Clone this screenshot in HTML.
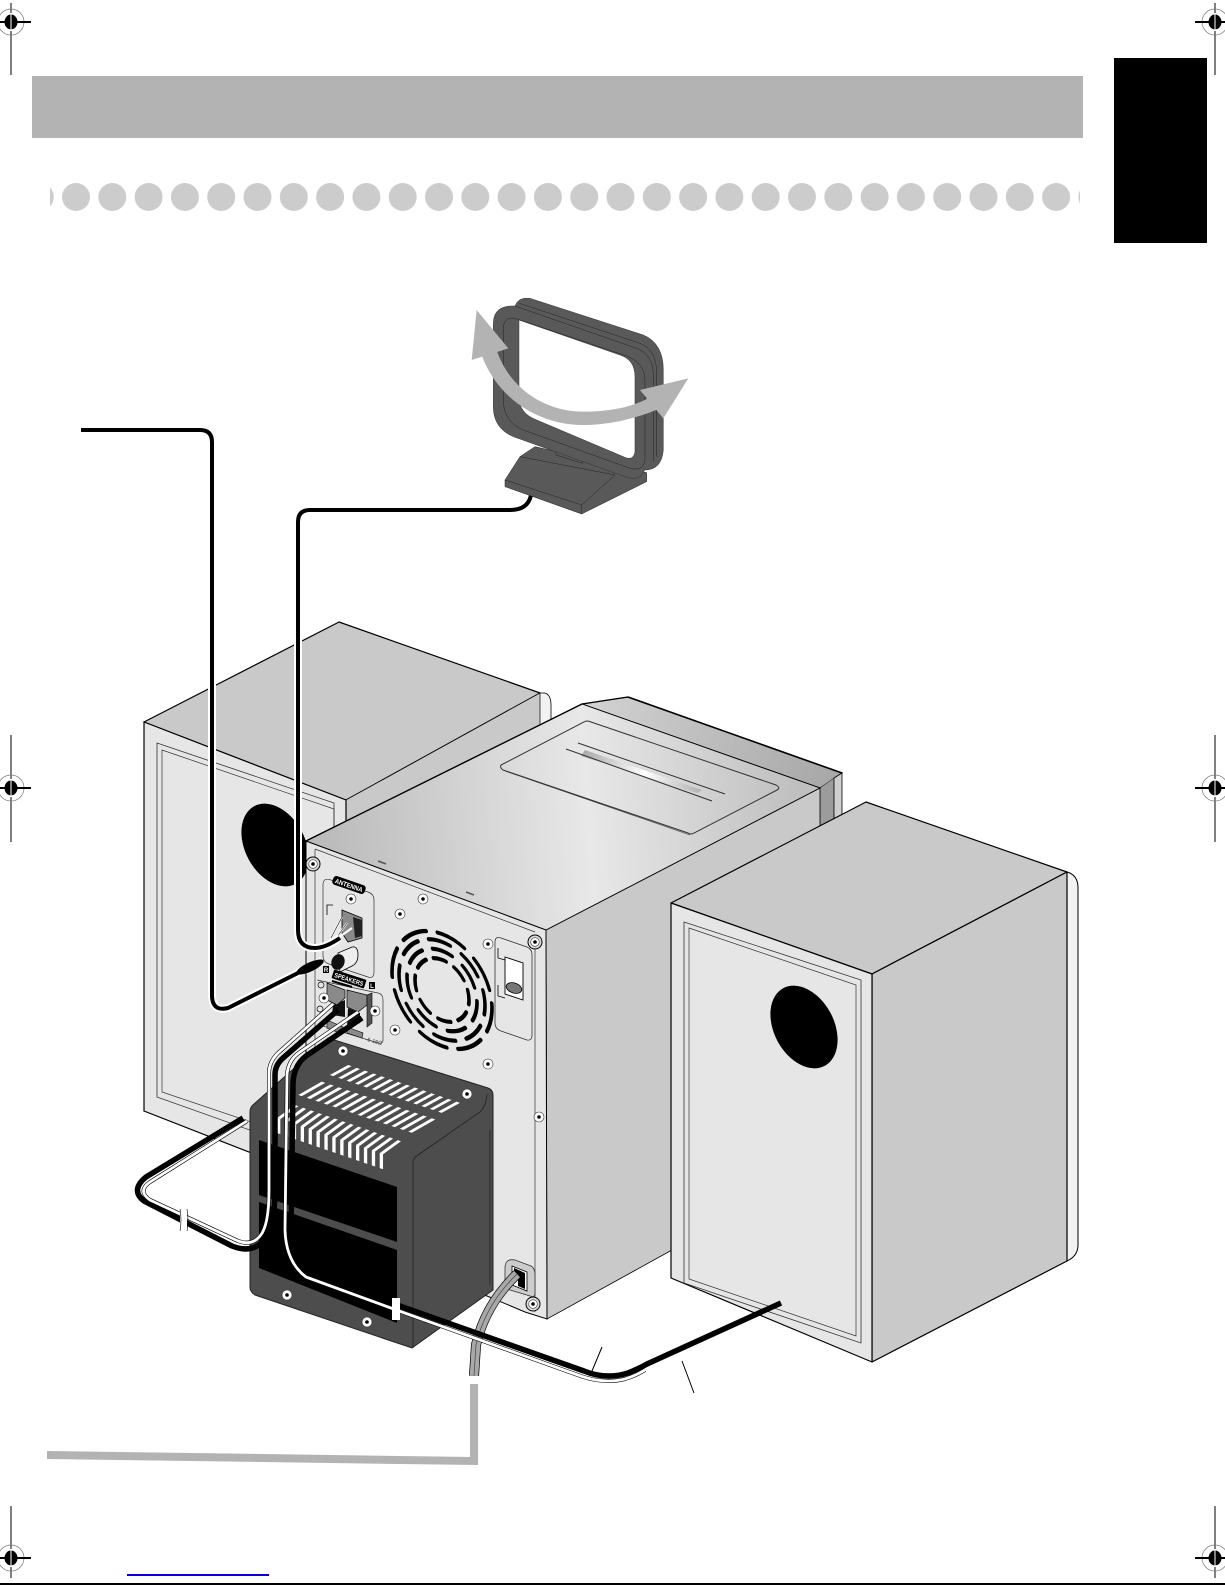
<!DOCTYPE html>
<html><head><meta charset="utf-8"><title>System connections</title>
<style>html,body{margin:0;padding:0;background:#fff}svg{display:block}</style></head>
<body>
<svg xmlns="http://www.w3.org/2000/svg" width="1225" height="1585" viewBox="0 0 1225 1585" font-family="Liberation Sans, sans-serif">
<defs>
<linearGradient id="topG" gradientUnits="userSpaceOnUse" x1="330" y1="830" x2="800" y2="800"><stop offset="0" stop-color="#bcbcbc"/><stop offset=".55" stop-color="#e8e8e8"/><stop offset="1" stop-color="#bfbfbf"/></linearGradient>
<linearGradient id="backG" gradientUnits="userSpaceOnUse" x1="590" y1="700" x2="840" y2="790"><stop offset="0" stop-color="#d2d2d2"/><stop offset="1" stop-color="#a6a6a6"/></linearGradient>
<linearGradient id="slotG" gradientUnits="userSpaceOnUse" x1="585" y1="750" x2="705" y2="795"><stop offset="0" stop-color="#aaa"/><stop offset=".5" stop-color="#fff"/><stop offset="1" stop-color="#aaa"/></linearGradient>
<g id="crop"><circle r="13" fill="none" stroke="#777" stroke-width=".7"/><ellipse rx="6.5" ry="7.5" fill="#000"/><rect x="-20" y="-1" width="40" height="2" fill="#000"/><rect x="-.5" y="-9" width="1" height="18" fill="#fff"/></g>
<g id="scr"><circle r="5" fill="#fff" stroke="#333" stroke-width=".6"/><circle r="1.8" fill="#000"/></g>
<g id="bscr"><circle r="7" fill="#ddd" stroke="#000" stroke-width="1"/><circle r="4.3" fill="#fff" stroke="#333" stroke-width=".6"/><circle r="1.8" fill="#000"/></g>
<clipPath id="dots"><rect x="50" y="170" width="1030" height="50"/></clipPath>
</defs>
<rect width="1225" height="1585" fill="#fff"/>

<!-- header -->
<rect x="32" y="76" width="1051" height="62" fill="#b3b3b3"/>
<rect x="1114" y="58" width="93" height="185" fill="#000"/>
<g fill="#ccc" clip-path="url(#dots)">
<circle cx="39.7" cy="197" r="14"/><circle cx="76" cy="197" r="14"/><circle cx="112.3" cy="197" r="14"/><circle cx="148.6" cy="197" r="14"/><circle cx="184.9" cy="197" r="14"/><circle cx="221.2" cy="197" r="14"/><circle cx="257.5" cy="197" r="14"/><circle cx="293.8" cy="197" r="14"/><circle cx="330.1" cy="197" r="14"/><circle cx="366.4" cy="197" r="14"/><circle cx="402.7" cy="197" r="14"/><circle cx="439" cy="197" r="14"/><circle cx="475.3" cy="197" r="14"/><circle cx="511.6" cy="197" r="14"/><circle cx="547.9" cy="197" r="14"/><circle cx="584.2" cy="197" r="14"/><circle cx="620.5" cy="197" r="14"/><circle cx="656.8" cy="197" r="14"/><circle cx="693.1" cy="197" r="14"/><circle cx="729.4" cy="197" r="14"/><circle cx="765.7" cy="197" r="14"/><circle cx="802" cy="197" r="14"/><circle cx="838.3" cy="197" r="14"/><circle cx="874.6" cy="197" r="14"/><circle cx="910.9" cy="197" r="14"/><circle cx="947.2" cy="197" r="14"/><circle cx="983.5" cy="197" r="14"/><circle cx="1019.8" cy="197" r="14"/><circle cx="1056.1" cy="197" r="14"/><circle cx="1092.4" cy="197" r="14"/>
</g>

<!-- crop marks -->
<g stroke="#000" stroke-width="1">
<path d="M11 3V75M1215 3V75M11 735V842M1215 735V842M11 1506V1578M1215 1506V1578"/>
</g>
<use href="#crop" x="11" y="22"/><use href="#crop" x="1215" y="22"/>
<use href="#crop" x="11" y="788"/><use href="#crop" x="1215" y="788"/>
<use href="#crop" x="11" y="1558"/><use href="#crop" x="1215" y="1558"/>
<rect x="127" y="1574" width="142" height="2" fill="#0000e0"/>
<rect x="0" y="1583" width="1225" height="2" fill="#000"/>

<!-- left speaker -->
<path d="M538 693H545Q551 695 551 705V735L538 745Z" fill="#f2f2f2" stroke="#000" stroke-width=".8"/>
<path d="M339 622L540 693L346 800L144 722Z" fill="#c9c9c9" stroke="#000" stroke-width="1.2" stroke-linejoin="round"/>
<path d="M346 800L540 693V760L346 860Z" fill="#c9c9c9" stroke="#000" stroke-width=".7"/>
<path d="M144 722L346 800V1190L144 1111Z" fill="#e6e6e6" stroke="#000" stroke-width="1.2"/>
<path d="M157 743L334 803V1160L157 1097Z" fill="none" stroke="#333" stroke-width=".8"/>
<path d="M162 750L334 809V1150L162 1092Z" fill="none" stroke="#333" stroke-width=".7"/>
<ellipse cx="275" cy="845" rx="30" ry="44" transform="rotate(-28 275 845)" fill="#000"/>

<!-- main unit -->
<path d="M582 704L628 697L842 773L820 788Z" fill="url(#backG)" stroke="#000" stroke-width="1"/>
<path d="M628 697L842 773" stroke="#000" stroke-width="1.6" fill="none"/>
<path d="M582 704L628 697" stroke="#000" stroke-width="1.2" fill="none"/>
<path d="M820 788L834 778V820L820 827Z" fill="#9c9c9c" stroke="#333" stroke-width=".5"/>
<path d="M834 778L842 773V817L834 820Z" fill="#cfcfcf" stroke="#000" stroke-width=".8"/>
<path d="M546 930L820 788V830L672 905V1250L547 1319Z" fill="#c9c9c9" stroke="#000" stroke-width=".8"/>
<path d="M582 704L820 788L546 930L306 841Z" fill="url(#topG)" stroke="#000" stroke-width=".9"/>
<path d="M582 704L306 841" stroke="#000" stroke-width="1.4"/>
<!-- disc panel -->
<path d="M584 722Q587 720 591 722L776 785Q781 788 777 790L694 833Q691 835 688 833L503 770Q498 766 503 764Z" fill="none" stroke="#333" stroke-width="1"/>
<path d="M505 771L690 835" stroke="#333" stroke-width=".6" fill="none"/>
<path d="M585 750L702 790L697 793L581 756Z" fill="url(#slotG)"/>
<path d="M578 743L725 794M566 749L712 801" stroke="#333" stroke-width="1" fill="none"/>

<!-- back panel -->
<path d="M306 841L546 930L547 1319L525 1312L487 1296L400 1270L306 1230Z" fill="#e6e6e6" stroke="#000" stroke-width="1"/>
<path d="M315 849V1060M535 940V1312M315 849L535 932" stroke="#333" stroke-width=".7" fill="none"/>
<path d="M378 861L386 864M466 892L474 895" stroke="#555" stroke-width="1.6" fill="none"/>

<!-- antenna panel -->
<path d="M323 885Q323 877 331 880L368 892Q374 894 374 900V972Q374 979 368 977L329 964Q323 962 323 956Z" fill="#e6e6e6" stroke="#333" stroke-width=".7"/>
<path d="M317 980L378 993Q383 994 383 1000V1040Q383 1044 378 1043L320 1025" fill="#e6e6e6" stroke="#333" stroke-width=".7"/>
<g transform="rotate(19 349 885)"><rect x="332" y="880.5" width="34" height="9" rx="3" fill="#000"/><text x="349" y="887.6" font-size="6.5" font-weight="bold" fill="#fff" text-anchor="middle" textLength="29" lengthAdjust="spacingAndGlyphs">ANTENNA</text></g>
<g transform="rotate(18 349 979)"><rect x="332" y="974.5" width="34" height="9" rx="1" fill="#000"/><text x="349" y="981.6" font-size="6.5" font-weight="bold" fill="#fff" text-anchor="middle" textLength="30" lengthAdjust="spacingAndGlyphs">SPEAKERS</text></g>
<rect x="323" y="966" width="6" height="7" fill="#000"/><text x="326" y="972" font-size="6" font-weight="bold" fill="#fff" text-anchor="middle">R</text>
<rect x="369" y="982" width="6" height="7" fill="#000"/><text x="372" y="988" font-size="6" font-weight="bold" fill="#fff" text-anchor="middle">L</text>
<text x="367" y="1041" font-size="5.5" fill="#333" transform="rotate(16 367 1041)">6-16Ω</text>
<path d="M327 915V905H333" fill="none" stroke="#000" stroke-width=".8"/>
<!-- antenna clip -->
<path d="M342 910L362 918V938L348 942L342 933Z" fill="#8a8a8a" stroke="#000" stroke-width=".8"/>
<path d="M353 917L362 920V936L355 938Z" fill="#222"/>
<path d="M331 938L342 917M335 940L347 923M338 938L352 928" stroke="#fff" stroke-width="2"/>
<path d="M331 938L342 917M335 940L347 923" stroke="#000" stroke-width=".6"/>
<!-- barrel -->
<path d="M338 953L352 947Q358 946 358 955Q358 963 352 966L340 972Z" fill="#eee" stroke="#000" stroke-width=".8"/>
<ellipse cx="338" cy="962" rx="6.5" ry="8" fill="#111" transform="rotate(20 338 962)"/>
<!-- speaker terminals -->
<path d="M333 1005L345 1000V1017L332 1015ZM348 1008L360 1013V1023L347 1027Z" fill="#111"/>
<path d="M327 983L345 990V998L337 1005L327 1000Z" fill="#8a8a8a" stroke="#000" stroke-width=".7"/>
<path d="M347 990L367 995V1005L358 1012L347 1007Z" fill="#8a8a8a" stroke="#000" stroke-width=".7"/>
<path d="M367 995L372 993V1023L367 1027Z" fill="#555" stroke="#000" stroke-width=".6"/>
<path d="M347 1027L363 1033L362 1038L347 1033ZM327 1020L343 1027L337 1032L327 1028Z" fill="#8a8a8a" stroke="#000" stroke-width=".6"/>
<path d="M332 981L352 987" stroke="#000" stroke-width="2"/>
<circle cx="321" cy="985" r="3" fill="none" stroke="#000" stroke-width=".7"/><circle cx="320" cy="1009" r="3" fill="none" stroke="#000" stroke-width=".7"/>
<use href="#scr" x="324" y="998"/>

<!-- fan -->
<g transform="matrix(1,.37,0,1.12,442,990)" fill="none" stroke="#000" stroke-linecap="round" stroke-width="3.6">
<circle r="50" stroke-dasharray="28 11.27" stroke-dashoffset="5"/>
<circle r="43" stroke-dasharray="22 11.77" stroke-dashoffset="14"/>
<circle r="35" stroke-dasharray="20 11.4" stroke-dashoffset="2"/>
<circle r="27" stroke-dasharray="13 8.2" stroke-dashoffset="9"/>
</g>
<!-- right side plate -->
<path d="M495 942Q495 936 501 938L527 947Q532 949 532 955V1035Q532 1041 527 1040L501 1031Q495 1029 495 1023Z" fill="#e6e6e6" stroke="#333" stroke-width=".8"/>
<path d="M498 948V958L505 960M498 985V996L505 998" fill="none" stroke="#000" stroke-width=".8"/>
<path d="M505 957L523 963V1000L505 994Z" fill="#fff" stroke="#000" stroke-width=".9"/>
<ellipse cx="514" cy="988" rx="8" ry="5" fill="#777" stroke="#000" stroke-width=".8" transform="rotate(18 514 988)"/>

<!-- screws -->
<use href="#bscr" x="313" y="864"/><use href="#bscr" x="535" y="942"/><use href="#bscr" x="533" y="1304"/>
<use href="#scr" x="351" y="899"/><use href="#scr" x="423" y="899"/><use href="#scr" x="400" y="914"/><use href="#scr" x="488" y="944"/><use href="#scr" x="375" y="1011"/><use href="#scr" x="395" y="1030"/><use href="#scr" x="488" y="1064"/><use href="#scr" x="539" y="1117"/>

<!-- power socket -->
<path d="M505 1268Q505 1258 515 1260L531 1266Q535 1268 535 1275V1293Q535 1298 530 1296L510 1290Q505 1288 505 1282Z" fill="#ccc" stroke="#333" stroke-width=".8"/>
<path d="M512 1266L527 1272V1291L512 1285Z" fill="#fff" stroke="#000" stroke-width=".8"/>
<path d="M514 1268L525 1273V1289L518 1286V1280L514 1276Z" fill="#000"/>

<!-- right speaker -->
<path d="M1067 872Q1078 875 1078 888V1245Q1078 1256 1067 1261Z" fill="#f2f2f2" stroke="#000" stroke-width="1"/>
<path d="M866 802L1067 872L872 974L671 903Z" fill="#c9c9c9" stroke="#000" stroke-width="1.2" stroke-linejoin="round"/>
<path d="M872 974L1067 872V1261L872 1362Z" fill="#c9c9c9" stroke="#000" stroke-width="1.2" stroke-linejoin="round"/>
<path d="M671 903L872 974V1362L671 1278Z" fill="#e6e6e6" stroke="#000" stroke-width="1.2" stroke-linejoin="round"/>
<path d="M684 922L861 980V1343L684 1283Z" fill="none" stroke="#333" stroke-width=".8"/>
<path d="M689 928L856 985V1336L689 1279Z" fill="none" stroke="#333" stroke-width=".7"/>
<ellipse cx="804" cy="1027" rx="30" ry="44" transform="rotate(-28 804 1027)" fill="#000"/>

<!-- dark box -->
<path d="M250 1112Q250 1107 254 1104L328 1038L488 1088Q493 1090 493 1095V1290L412 1348L255 1295Q250 1292 250 1287Z" fill="#4d4d4d" stroke="#222" stroke-width="1"/>
<path d="M413 1348V1162Q413 1158 418 1155L480 1112Q486 1106 487 1094M490 1130V1285" fill="none" stroke="#222" stroke-width=".8"/>
<path d="M259 1140L397 1187V1242L259 1195Z" fill="#000"/>
<path d="M259 1202L397 1250V1323L259 1268Z" fill="#000"/>
<g fill="none" stroke="#fff" stroke-width="1">
<line x1="0" y1="0" x2="14" y2="0" stroke-dasharray=".42 .58" transform="matrix(8.33,2.82,18.3,-10,339,1070)"/>
<line x1="0" y1="0" x2="14" y2="0" stroke-dasharray=".42 .58" transform="matrix(8.46,2.82,23.4,-13.3,310,1088.3)"/>
<line x1="0" y1="0" x2="14" y2="0" stroke-dasharray=".42 .58" transform="matrix(7.9,2.7,18,-13,286,1111.5)"/>
<line x1="0" y1="0" x2="14" y2="0" stroke-dasharray=".42 .58" transform="matrix(7.9,2.7,0,15,277,1125.5)"/>
</g>
<use href="#scr" x="343" y="1051"/><use href="#scr" x="467" y="1094"/><use href="#scr" x="287" y="1295"/><use href="#scr" x="367" y="1322"/>

<!-- power cord -->
<g fill="none">
<path d="M517 1274Q485 1305 476 1345L474 1376" stroke="#000" stroke-width="10"/>
<path d="M517 1274Q485 1305 476 1345L474 1376" stroke="#a8a8a8" stroke-width="8.6"/>
<path d="M517 1274Q485 1305 476 1345L474 1376" stroke="#444" stroke-width=".7"/>
</g>
<rect x="466" y="1376" width="16" height="8" fill="#fff"/>
<path d="M47 1455L474 1461V1384" fill="none" stroke="#b3b3b3" stroke-width="8"/>

<!-- FM antenna cable -->
<g fill="none">
<path d="M81 430H200Q212 430 212 442V995Q212 1012 228 1008L322 961" stroke="#fff" stroke-width="8"/>
<path d="M81 430H200Q212 430 212 442V995Q212 1012 228 1008L322 961" stroke="#000" stroke-width="4"/>
</g>
<ellipse cx="310" cy="967" rx="15" ry="4.5" fill="#000" transform="rotate(-25 310 967)"/>

<!-- AM loop cable -->
<g fill="none">
<path d="M531 495Q528 510 510 510H310Q298 510 298 522V930Q298 948 315 948Q325 948 340 938" stroke="#fff" stroke-width="8"/>
<path d="M531 495Q528 510 510 510H310Q298 510 298 522V930Q298 948 315 948Q325 948 340 938" stroke="#000" stroke-width="4"/>
</g>

<!-- speaker cable A -->
<g fill="none" stroke-linejoin="round">
<path d="M243 1118L146 1177Q130 1190 144 1201L232 1246Q252 1254 264 1240Q275 1225 275 1190V1075Q275 1065 283 1058L338 1010" stroke="#000" stroke-width="5.5"/>
<path d="M247 1121L150 1182Q137 1191 150 1200L238 1241Q252 1246 260 1236Q269 1226 269 1190V1073Q269 1062 278 1053L333 1004" stroke="#000" stroke-width="4"/>
<path d="M247 1121L150 1182Q137 1191 150 1200L238 1241Q252 1246 260 1236Q269 1226 269 1190V1073Q269 1062 278 1053L333 1004" stroke="#fff" stroke-width="2.8"/>
<!-- speaker cable B -->
<path d="M362 1018L306 1056Q293 1066 293 1085L291 1230Q293 1258 311 1270L397 1305L584 1371Q606 1380 628 1373Q636 1370 647 1364L781 1303" stroke="#000" stroke-width="5.5"/>
<path d="M358 1012L300 1052Q288 1060 287 1075L285 1230Q286 1262 306 1277L395 1309.5L582 1376.5Q605 1384 625 1379Q635 1376 645 1370" stroke="#000" stroke-width="4"/>
<path d="M358 1012L300 1052Q288 1060 287 1075L285 1230Q286 1262 306 1277L395 1309.5L582 1376.5Q605 1384 625 1379Q635 1376 645 1370" stroke="#fff" stroke-width="2.8"/>
</g>
<!-- breaks -->
<rect x="180" y="1209" width="7" height="22" fill="#fff"/>
<path d="M180 1209Q182 1220 180 1231M187 1209Q189 1220 187 1231" stroke="#000" stroke-width=".6" fill="none"/>
<rect x="392" y="1298" width="8" height="22" fill="#fff"/>
<path d="M592 1371L602 1347M682 1361L694 1393" stroke="#000" stroke-width="1"/>

<!-- loop antenna, coordinates from a 3x crop -->
<g transform="translate(440 280) scale(.3333)">
<path d="M195 600L240 530L285 500L620 578V605L425 702L195 620Z" fill="#595959" stroke="#222" stroke-width="1.5" stroke-linejoin="round"/>
<path d="M195 600L425 675L525 585M240 530L525 585M425 675V702" fill="none" stroke="#222" stroke-width="1.5"/>
<path d="M348 508L428 532V550L348 525Z" fill="#595959" stroke="#222" stroke-width="1.5"/>
<path fill-rule="evenodd" d="M160 130Q160 75 225 78Q235 50 270 55L610 165Q670 190 670 270V510Q665 570 615 570L600 590Q585 600 555 590L220 470Q160 445 160 380ZM237 120L540 225Q585 240 585 290V515Q580 545 550 530L290 420Q237 400 237 350Z" fill="#595959" stroke="#333" stroke-width="1.5"/>
<path d="M225 78L590 205Q640 225 640 285V545M238 70L600 190Q650 210 650 280V530M190 360V140Q195 110 225 115L560 228Q615 250 615 300V540Q610 575 570 565L250 450Q190 425 190 360" fill="none" stroke="#222" stroke-width="1.5"/>
<path d="M165 195C200 320 310 395 430 395C510 395 590 380 640 345L660 385C590 415 510 435 430 435C290 435 170 350 125 225Z" fill="#b3b3b3"/>
<path d="M110 90L205 205L95 240ZM745 295L600 330L670 415Z" fill="#b3b3b3"/>
</g>
</svg>
</body></html>
